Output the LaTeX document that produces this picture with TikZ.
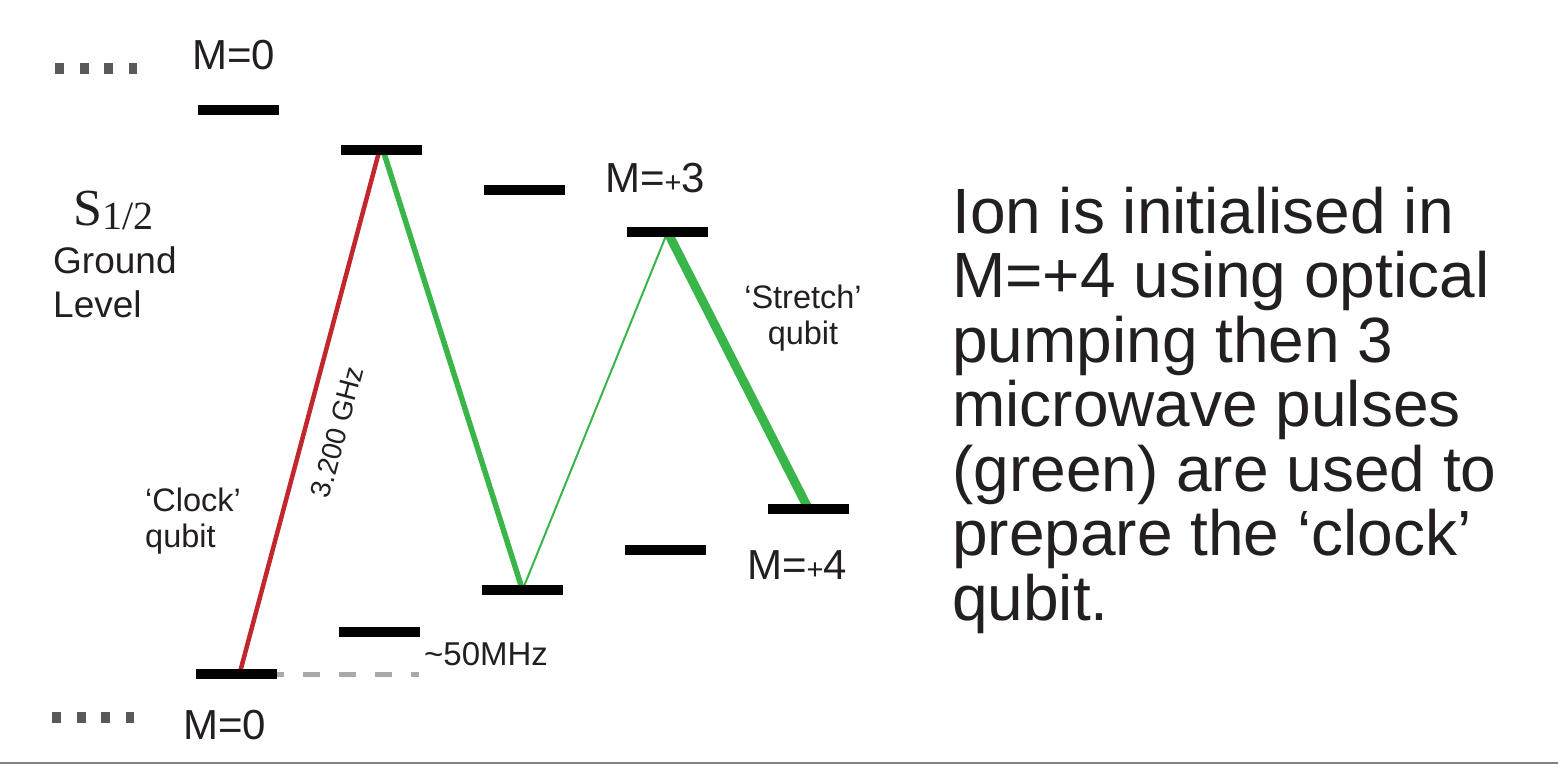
\documentclass[tikz,border=0pt]{standalone}
\usepackage{fontspec}
\setmainfont{Liberation Sans}
\newfontfamily\serifS{Liberation Serif}
\usetikzlibrary{calc}
\definecolor{txt}{HTML}{231F20}
\definecolor{lvred}{HTML}{C1272D}
\definecolor{lvgreen}{HTML}{39B54A}
\definecolor{dotgray}{HTML}{58595B}
\definecolor{dashgray}{HTML}{A7A9AC}
\definecolor{rulegray}{HTML}{808285}
\pgfdeclarelayer{bg}
\pgfsetlayers{bg,main}
\begin{document}
\begin{tikzpicture}[x=1pt,y=-1pt,
  level/.style={fill=black, inner sep=0pt, minimum width=81pt, minimum height=10pt},
  lbl/.style={inner sep=0pt, text=txt, anchor=base west},
  mlabel/.style={lbl, font=\fontsize{42}{48}\selectfont},
  smalltxt/.style={inner sep=0pt, text=txt, font=\fontsize{32.5}{35.5}\selectfont},
  redline/.style={draw=lvred, line width=4.5pt},
  greenthick/.style={draw=lvgreen, line width=5.5pt},
  greenthin/.style={draw=lvgreen, line width=2pt},
  greenfat/.style={draw=lvgreen, line width=9pt},
  dots/.style={draw=dotgray, line width=11pt, dash pattern=on 9pt off 15.7pt},
]
\useasboundingbox (0,0) rectangle (1558,765);

% levels
\node[level] (m0t) at (238,110) {};
\node[level] (la) at (381.5,150) {};
\node[level] (lb) at (524.5,190) {};
\node[level] (lc) at (667.5,232) {};
\node[level] (ld) at (808.5,509) {};
\node[level] (le) at (665,550) {};
\node[level] (lf) at (522.5,590) {};
\node[level] (lg) at (379,632) {};
\node[level] (m0b) at (236.5,674) {};
\coordinate (dend) at (419,674);

% connectors
\begin{pgfonlayer}{bg}
  \draw[redline] ([xshift=3pt]m0b.center) -- ([xshift=-2pt]la.center);
  \draw[greenthick] ([xshift=1.5pt]la.center) -- (lf.center);
  \draw[greenthin] (lf.center) -- (lc.center);
  \draw[greenfat] (lc.center) -- (ld.center);
  \draw[draw=dashgray, line width=5pt, dash pattern=on 17pt off 19pt, dash phase=10pt] (m0b.east) -- (dend);
\end{pgfonlayer}

% dotted continuations
\draw[dots] (55,69) -- (137,69);
\draw[dots] (52,717) -- (134,717);

% labels
\node[mlabel] (t0top) at (192,70) {M=0};
\node[mlabel] (t0bot) at (183,739) {M=0};
\node[mlabel] (t3) at (605,193) {M={\fontsize{29}{30}\selectfont +}3};
\node[mlabel] (t4) at (747,579) {M={\fontsize{29}{30}\selectfont +}4};

\node[lbl] (s12) at (73,225) {{\fontsize{52}{56}\serifS S}{\fontsize{40}{44}\serifS\raisebox{-4pt}{1/2}}};
\node[lbl, align=left, font=\fontsize{37}{44}\selectfont] (ground) at (53,317) {Ground\\Level};

\node[smalltxt, anchor=base west, align=left] (clock) at (145,547) {‘Clock’\\qubit};
\node[smalltxt, anchor=base, align=center] (stretch) at (803,344) {‘Stretch’\\qubit};

\node[lbl, font=\fontsize{33}{36}\selectfont] (mhz) at (424,665) {\textasciitilde 50MHz};
\node[inner sep=0pt, text=txt, font=\fontsize{28}{30}\selectfont, rotate=75] (ghz) at (337,432) {3.200 GHz};

\node[lbl, align=left, font=\fontsize{64}{64.5}\selectfont] (desc) at (952,620)
  {Ion is initialised in\\M=+4 using optical\\pumping then 3\\microwave pulses\\(green) are used to\\prepare the ‘clock’\\qubit.};

% bottom rule
\draw[draw=rulegray, line width=2pt] (0,763) -- (1558,763);
\end{tikzpicture}
\end{document}
